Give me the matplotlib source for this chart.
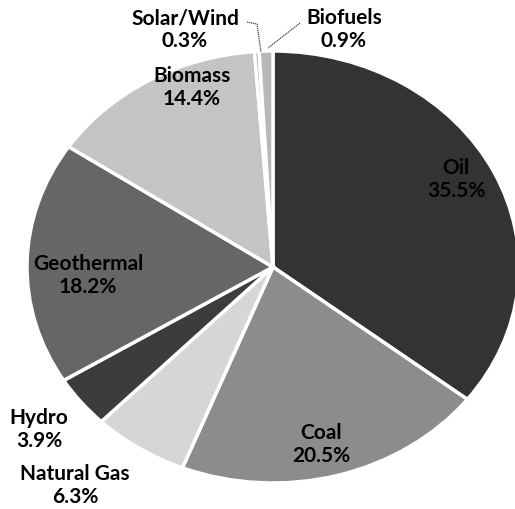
import matplotlib
matplotlib.use("Agg")
import matplotlib.pyplot as plt

# energy shares, clockwise from 12 o'clock
sources = ["Oil", "Coal", "Natural Gas", "Hydro", "Geothermal", "Biomass", "Solar/Wind", "Biofuels"]
shares = [35.5, 20.5, 6.3, 3.9, 18.2, 14.4, 0.3, 0.9]
colors = ["#333333", "#8c8c8c", "#d6d6d6", "#3c3c3c", "#666666", "#c4c4c4", "#a8a8a8", "#b8b8b8"]

# label name-line centres in pixels of the 515x509 image (value line sits ~25px below)
label_px = {"Oil": (456, 167), "Coal": (321, 432), "Natural Gas": (75, 473),
            "Hydro": (39, 417), "Geothermal": (88, 263), "Biomass": (192, 75),
            "Solar/Wind": (185, 17), "Biofuels": (344, 17)}

W, H = 515, 509
CX, CY, RX, RY = 273, 267, 246, 216   # pie centre and radii in pixels (scan is slightly squashed)

fig = plt.figure(figsize=(W / 100, H / 100), dpi=100)
ax = fig.add_axes([0, 0, 1, 1])
ax.pie(shares, colors=colors, startangle=90, counterclock=False,
       wedgeprops=dict(edgecolor="white", linewidth=2.5))
ax.set_aspect("auto")
ax.set_xlim(-CX / RX, (W - CX) / RX)
ax.set_ylim(-(H - CY) / RY, CY / RY)
ax.axis("off")

def to_data(px, py):
    return (px - CX) / RX, (CY - py) / RY

for name, val in zip(sources, shares):
    px, py = label_px[name]
    x, y = to_data(px, py + 12.5)
    ax.text(x, y, f"{name}\n{val:.1f}%", ha="center", va="center", fontsize=15,
            fontweight="bold", family="Lato", linespacing=1.15, color="black")

# leader lines for the two thin slices
for pts in ([(247, 22), (257, 24), (261, 52)], [(300, 23), (268, 48)]):
    xs, ys = zip(*[to_data(*p) for p in pts])
    ax.plot(xs, ys, color="#444444", lw=0.9, ls=(0, (1, 0.6)))

fig.savefig("out.png", dpi=100)
